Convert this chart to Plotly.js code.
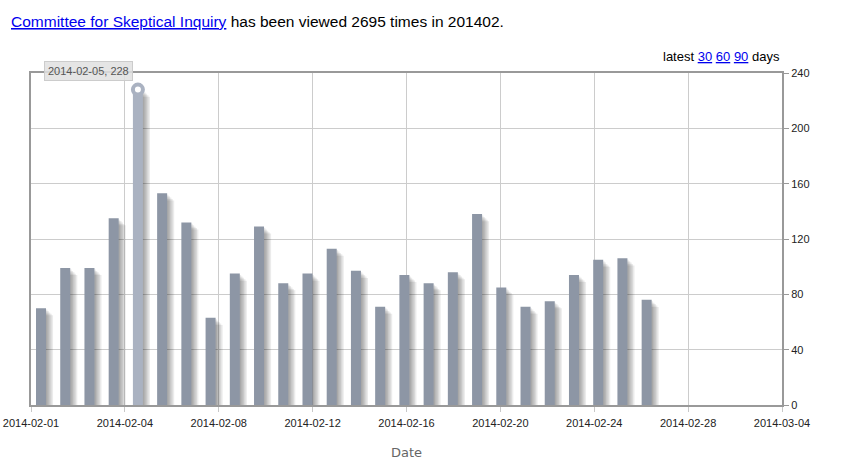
<!DOCTYPE html>
<html>
<head>
<meta charset="utf-8">
<script src="https://cdn.plot.ly/plotly-3.0.1.min.js"></script>
<style>
  html, body { margin: 0; padding: 0; background: #fff; }
  #chart { width: 856px; height: 460px; }
</style>
</head>
<body>
<div id="chart"></div>
<script>
// ---- data ----
const pageTitle = "Committee for Skeptical Inquiry";
const monthLabel = "201402";
const dates = [
  "2014-02-01","2014-02-02","2014-02-03","2014-02-04","2014-02-05","2014-02-06",
  "2014-02-07","2014-02-08","2014-02-09","2014-02-10","2014-02-11","2014-02-12",
  "2014-02-13","2014-02-14","2014-02-15","2014-02-16","2014-02-17","2014-02-18",
  "2014-02-19","2014-02-20","2014-02-21","2014-02-22","2014-02-23","2014-02-24",
  "2014-02-25","2014-02-26"
];
const views = [
  70, 99, 99, 135, 228, 153,
  132, 63, 95, 129, 88, 95,
  113, 97, 71, 94, 88, 96,
  138, 85, 71, 75, 94, 105,
  106, 76
];
const highlightIndex = 4;
const xTickLabels = [
  "2014-02-01","2014-02-04","2014-02-08","2014-02-12","2014-02-16",
  "2014-02-20","2014-02-24","2014-02-28","2014-03-04"
];
const yTickVals = [0, 40, 80, 120, 160, 200, 240];
const latestDays = [30, 60, 90];

// ---- styling / geometry ----
const DAY = 86400000;
const rangeStart = Date.parse("2014-02-01T00:00:00Z") - 0.413 * DAY;
const rangeEnd = Date.parse("2014-03-04T00:00:00Z") - 0.413 * DAY;
const barWidth = 0.413 * DAY;
const pxPerDay = 751 / 31;
const pxPerUnit = 332 / 240;
const barColor = "#8d96a5";
const hiColor = "#aab2c1";

const xTickVals = xTickLabels.map((_, i) =>
  new Date(rangeStart + (rangeEnd - rangeStart) * i / (xTickLabels.length - 1)).toISOString()
);

const traces = [];
// jqplot-style soft shadow: 5 stacked translucent layers offset down-right
const depth = 5, stepPx = 1.414;
for (let j = depth; j >= 1; j--) {
  traces.push({
    type: "bar",
    x: dates,
    y: views.map(v => Math.max(0, v - j * stepPx / pxPerUnit)),
    width: barWidth,
    offset: -barWidth / 2 + j * stepPx / pxPerDay * DAY,
    marker: { color: "rgba(0,0,0,0.08)", line: { width: 0 } },
    hoverinfo: "skip",
    showlegend: false
  });
}
traces.push({
  type: "bar",
  x: dates,
  y: views,
  width: barWidth,
  marker: { color: views.map((_, i) => i === highlightIndex ? hiColor : barColor), line: { width: 0 } },
  hoverinfo: "x+y",
  showlegend: false
});
traces.push({
  type: "scatter",
  mode: "markers",
  x: [dates[highlightIndex]],
  y: [views[highlightIndex]],
  marker: { symbol: "circle", size: 10, color: "#ffffff", line: { color: hiColor, width: 4 } },
  hoverinfo: "skip",
  showlegend: false,
  cliponaxis: false
});

const total = views.reduce((a, b) => a + b, 0);
const linkStyle = "color:#0000ee";
const latestText = "latest " + latestDays.map(d =>
  '<span style="' + linkStyle + '"><u>' + d + '</u></span>').join(" ") + " days";

// paper coords helper from pixel positions (plot area: x 31..782, y 73..405)
const px2x = p => (p - 31) / 751;
const px2y = p => (405 - p) / 332;

const layout = {
  width: 856,
  height: 460,
  margin: { l: 31, r: 74, t: 73, b: 55, pad: 0 },
  paper_bgcolor: "#ffffff",
  plot_bgcolor: "#ffffff",
  barmode: "overlay",
  showlegend: false,
  font: { family: "Liberation Sans, Arial, sans-serif", size: 11, color: "#222" },
  xaxis: {
    type: "date",
    range: [new Date(rangeStart).toISOString(), new Date(rangeEnd).toISOString()],
    tickmode: "array",
    tickvals: xTickVals,
    ticktext: xTickLabels,
    ticks: "outside",
    ticklen: 5,
    tickcolor: "#c8c8c8",
    ticklabelstandoff: 2,
    tickfont: { family: "Liberation Sans, Arial, sans-serif", size: 11, color: "#222" },
    showgrid: true,
    gridcolor: "#cccccc",
    gridwidth: 1,
    showline: true,
    mirror: true,
    linecolor: "#999999",
    linewidth: 2,
    zeroline: false,
    fixedrange: true,
    title: { text: "Date", font: { family: "DejaVu Sans, Verdana, sans-serif", size: 13, color: "#666" }, standoff: 22 }
  },
  yaxis: {
    side: "right",
    range: [0, 240],
    tickmode: "array",
    tickvals: yTickVals,
    ticktext: yTickVals.map(String),
    ticks: "outside",
    ticklen: 5,
    tickcolor: "#999999",
    tickfont: { family: "Liberation Sans, Arial, sans-serif", size: 11, color: "#222" },
    showgrid: true,
    gridcolor: "#cccccc",
    gridwidth: 1,
    showline: true,
    mirror: true,
    linecolor: "#999999",
    linewidth: 2,
    zeroline: false,
    fixedrange: true
  },
  annotations: [
    {
      xref: "paper", yref: "paper",
      x: px2x(9), y: px2y(21),
      xanchor: "left", yanchor: "middle",
      showarrow: false,
      text: '<span style="' + linkStyle + '"><u>' + pageTitle + '</u></span> has been viewed ' +
            total + ' times in ' + monthLabel + '.',
      font: { family: "Liberation Sans, Arial, sans-serif", size: 15.5, color: "#000" }
    },
    {
      xref: "paper", yref: "paper",
      x: px2x(782), y: px2y(56),
      xanchor: "right", yanchor: "middle",
      showarrow: false,
      text: latestText,
      font: { family: "Liberation Sans, Arial, sans-serif", size: 13, color: "#000" }
    },
    {
      xref: "paper", yref: "paper",
      x: px2x(44), y: px2y(61),
      xanchor: "left", yanchor: "top",
      showarrow: false,
      text: dates[highlightIndex] + ", " + views[highlightIndex],
      font: { family: "Liberation Sans, Arial, sans-serif", size: 11, color: "#555" },
      bgcolor: "rgba(225,225,225,0.85)",
      bordercolor: "#cccccc",
      borderwidth: 1,
      borderpad: 3
    }
  ]
};

Plotly.newPlot("chart", traces, layout, { displayModeBar: false, staticPlot: false });
</script>
</body>
</html>
